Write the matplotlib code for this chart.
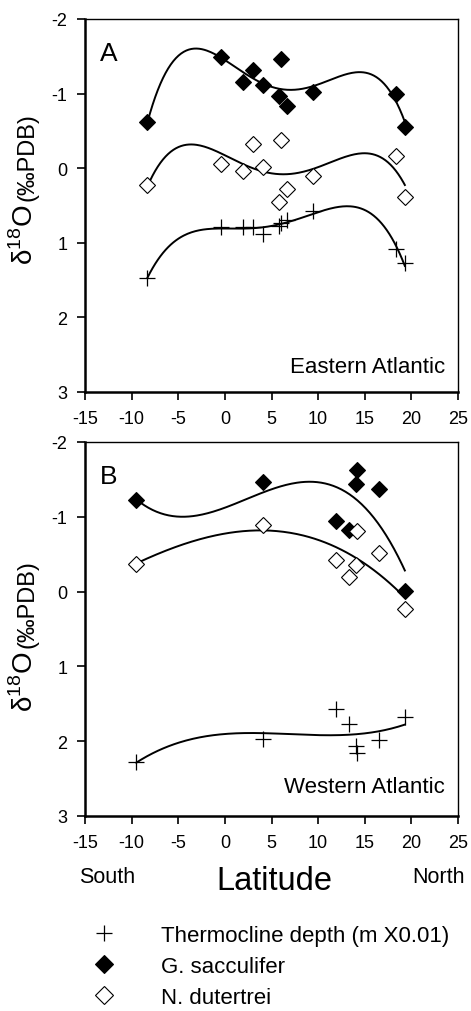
import numpy as np
import matplotlib
matplotlib.use("Agg")
import matplotlib.pyplot as plt

plt.rcParams['font.family'] = ['Liberation Sans', 'DejaVu Sans']
plt.rcParams['mathtext.fontset'] = 'custom'
plt.rcParams['mathtext.rm'] = 'Liberation Sans'
plt.rcParams['axes.unicode_minus'] = False

# Eastern Atlantic (panel A)
a_lat = [-8.3, -0.4, 1.9, 3.0, 4.1, 5.8, 6.0, 6.7, 9.4, 18.3, 19.3]
a_sacc = [-0.62, -1.49, -1.15, -1.31, -1.12, -0.97, -1.46, -0.84, -1.02, -1.00, -0.55]
a_dut = [0.23, -0.06, 0.04, -0.33, -0.01, 0.45, -0.38, 0.28, 0.11, -0.17, 0.38]
a_therm = [1.47, 0.79, 0.79, 0.79, 0.88, 0.78, 0.74, 0.69, 0.58, 1.08, 1.27]

# Western Atlantic (panel B)
b_lat = [-9.5, 4.1, 11.9, 13.3, 14.1, 14.2, 16.5, 19.3]
b_sacc = [-1.22, -1.47, -0.95, -0.82, -1.44, -1.62, -1.37, -0.01]
b_dut = [-0.37, -0.89, -0.42, -0.20, -0.36, -0.81, -0.52, 0.23]
b_therm = [2.28, 1.97, 1.57, 1.77, 2.07, 2.16, 1.98, 1.67]

xticks = [-15, -10, -5, 0, 5, 10, 15, 20, 25]
yticks = [-2, -1, 0, 1, 2, 3]
legend_labels = ['Thermocline depth (m X0.01)', 'G. sacculifer', 'N. dutertrei']

fig = plt.figure(figsize=(4.71, 10.12), dpi=100)
ax_a = fig.add_axes([85 / 471, 1 - 393 / 1012, 373 / 471, 373 / 1012])
ax_b = fig.add_axes([85 / 471, 1 - 817 / 1012, 373 / 471, 374 / 1012])


def fit_curve(ax, x, y, deg):
    # polynomial regression line over the sampled latitude range
    xs = np.linspace(min(x), max(x), 200)
    ax.plot(xs, np.polyval(np.polyfit(x, y, deg), xs), color='black', lw=1.4)


def draw_panel(ax, lat, sacc, dut, therm, deg, letter, region, reg_y):
    for vals in (sacc, dut, therm):
        fit_curve(ax, lat, vals, deg)
    h1, = ax.plot(lat, therm, ls='none', marker='+', ms=11, mew=0.9, color='black')
    h2, = ax.plot(lat, sacc, ls='none', marker='D', ms=8.6, mfc='black', mec='black', mew=0.8)
    h3, = ax.plot(lat, dut, ls='none', marker='D', ms=8.6, mfc='white', mec='black', mew=0.8)
    ax.set_xlim(-15, 25)
    ax.set_ylim(3, -2)
    ax.set_xticks(xticks)
    ax.set_yticks(yticks)
    ax.tick_params(direction='out', length=5.8, width=1.2, pad=7, labelsize=13)
    for s in ['left', 'bottom']:
        ax.spines[s].set_linewidth(1.8)
    for s in ['top', 'right']:
        ax.spines[s].set_linewidth(1.0)
    ax.text(0.04, 0.89, letter, transform=ax.transAxes, fontsize=19, va='baseline')
    ax.text(0.965, reg_y, region, transform=ax.transAxes, fontsize=16,
            ha='right', va='baseline')
    return h1, h2, h3


handles = draw_panel(ax_a, a_lat, a_sacc, a_dut, a_therm, 4, 'A', 'Eastern Atlantic', 0.054)
draw_panel(ax_b, b_lat, b_sacc, b_dut, b_therm, 3, 'B', 'Western Atlantic', 0.064)

# y labels, baseline shared along x = 33 px
for y_join in [1 - 201 / 1012, 1 - 648 / 1012]:
    fig.text(33 / 471, y_join - 4 / 1012, 'δ$^{18}$O', fontsize=20, rotation=90,
             rotation_mode='anchor', ha='right', va='baseline')
    fig.text(33 / 471, y_join, '(‰PDB)', fontsize=17, rotation=90,
             rotation_mode='anchor', ha='left', va='baseline')

fig.text(79 / 471, 1 - 883 / 1012, 'South', fontsize=15.5, va='baseline')
fig.text(465 / 471, 1 - 883 / 1012, 'North', fontsize=15.5, ha='right', va='baseline')
fig.text(274.5 / 471, 1 - 890 / 1012, 'Latitude', fontsize=23.5, ha='center', va='baseline')

fig.legend(handles, legend_labels,
           loc='upper left', bbox_to_anchor=(87 / 471, 1 - 926 / 1012), frameon=False,
           fontsize=16, handlelength=1.5, handletextpad=1.85, labelspacing=0.45,
           borderpad=0, borderaxespad=0, markerscale=1.1)

fig.savefig('out.png', dpi=100)
